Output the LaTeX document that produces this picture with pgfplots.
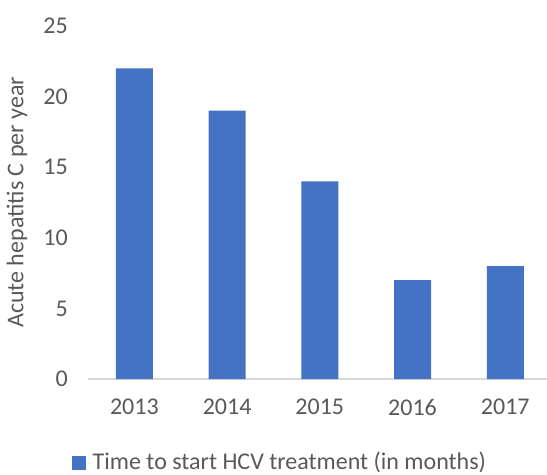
\documentclass[border=0pt]{standalone}
\usepackage{pgfplots}
\pgfplotsset{compat=1.18}
\usepackage{fontspec}
\setmainfont{Carlito}
\definecolor{barblue}{HTML}{4472C4}
\definecolor{txtgray}{HTML}{595959}
\definecolor{axgray}{HTML}{D9D9D9}
\begin{document}
\fontsize{24bp}{28bp}\selectfont
\begin{tikzpicture}
\path[use as bounding box] (-88bp,-96bp) rectangle (459bp,379bp);
\begin{axis}[
  at={(0,0)}, anchor=south west,
  scale only axis,
  width=459bp, height=353bp,
  xmin=-0.5, xmax=4.45,
  ymin=0, ymax=25,
  ytick={0,5,10,15,20,25},
  xtick=data,
  xticklabels={2013,2014,2015,2016,2017},
  /pgf/number format/assume math mode=true,
  ticklabel style={font=\fontsize{24bp}{28bp}\selectfont, text=txtgray},
  major tick length=0pt,
  axis x line*=bottom,
  axis y line*=left,
  y axis line style={draw=none},
  x axis line style={draw=axgray, line width=1.5bp, -},
  ylabel={Acute hepatitis C per year},
  ylabel style={font=\fontsize{24bp}{28bp}\selectfont, text=txtgray},
  yticklabel style={xshift=-12bp},
  xticklabel style={yshift=-12bp},
  legend style={at={(axis description cs:0.418,-0.238)}, anchor=center, draw=none, fill=none,
    font=\fontsize{24bp}{28bp}\selectfont, text=txtgray, inner sep=0pt},
  legend image code/.code={\fill[barblue] (0bp,-7bp) rectangle (14bp,7bp); \path (0bp,0bp) -- (19bp,0bp);},
]
\addplot[ybar, bar width=37bp, fill=barblue, draw=none] coordinates {(0,22) (1,19) (2,14) (3,7) (4,8)};
\addlegendentry{Time to start HCV treatment (in months)}
\end{axis}
\end{tikzpicture}
\end{document}
